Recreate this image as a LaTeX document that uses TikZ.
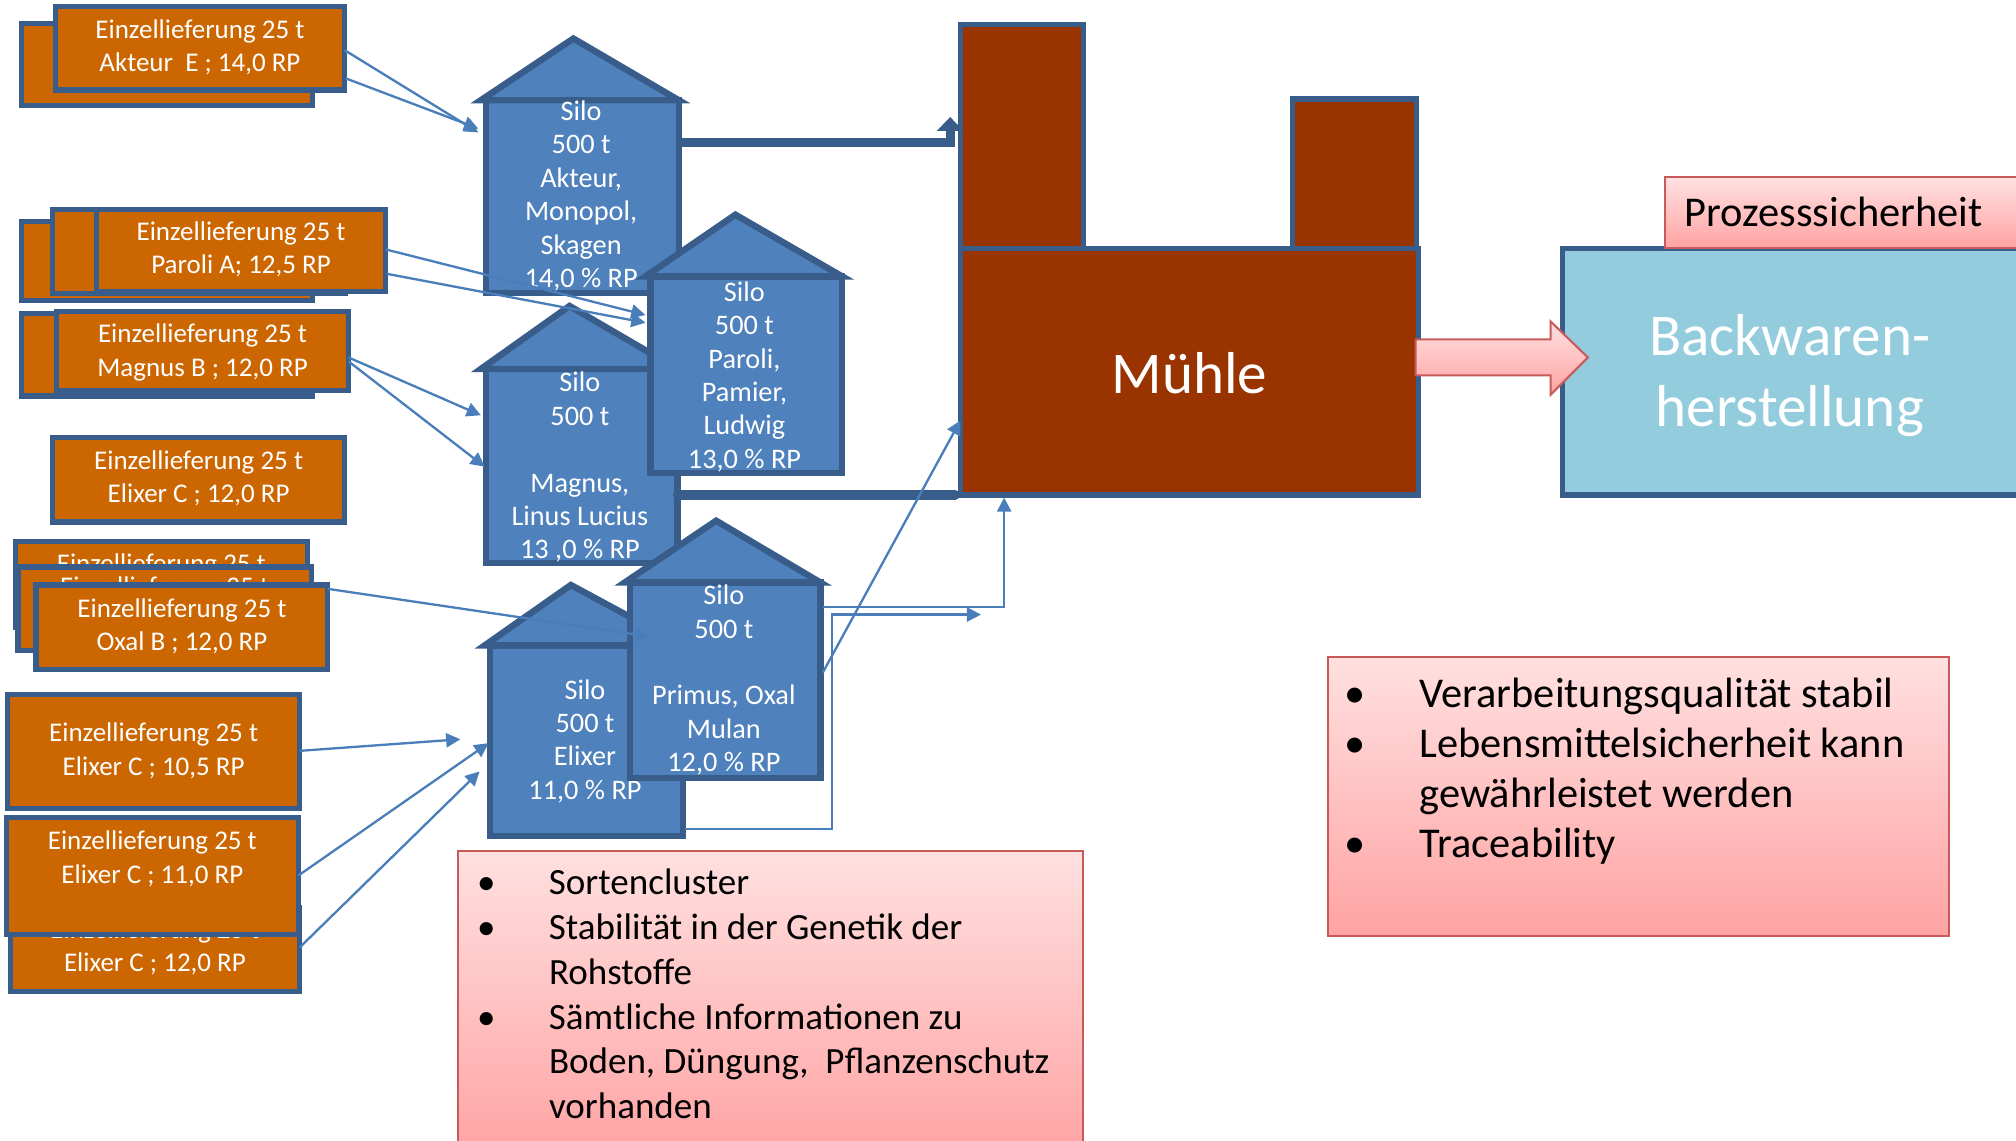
\documentclass[tikz,border=0pt]{standalone}
\usepackage{fontspec}
\setmainfont{Carlito}
\usetikzlibrary{arrows.meta,calc}
\definecolor{org}{HTML}{CC6600}
\definecolor{bdr}{HTML}{385D8A}
\definecolor{silofill}{HTML}{4F81BD}
\definecolor{mill}{HTML}{993300}
\definecolor{bake}{HTML}{93CDDD}
\definecolor{conn}{HTML}{4A7EBB}
\definecolor{pinkT}{HTML}{FFE0E0}
\definecolor{pinkB}{HTML}{FFA3A3}
\definecolor{pinkL}{HTML}{C85A5A}
\newcommand\mkbox[6]{\node[#2,minimum width={(#5-#3)*0.5pt},minimum height={(#6-#4)*0.5pt}] (#1) at (#3,#4) {};}
\begin{document}
\begin{tikzpicture}[x=0.5pt,y=-0.5pt,
  obox/.style={draw=bdr,fill=org,line width=2pt,inner sep=0pt,outer sep=0pt,anchor=north west},
  otxt/.style={text=white,font=\fontsize{10.5}{13}\selectfont,align=center,inner sep=0pt,outer sep=0pt},
  silobody/.style={draw=bdr,fill=silofill,line width=2.5pt,inner sep=0pt,outer sep=0pt,anchor=north west},
  siloroof/.style={draw=bdr,fill=silofill,line width=2.5pt},
  stxt/.style={text=white,font=\fontsize{11}{13}\selectfont,align=center,inner sep=0pt,outer sep=0pt},
  millbox/.style={draw=bdr,fill=mill,line width=2pt,inner sep=0pt,outer sep=0pt,anchor=north west},
  bakebox/.style={draw=bdr,fill=bake,line width=2pt,inner sep=0pt,outer sep=0pt,anchor=north west},
  pinkbox/.style={draw=pinkL,line width=0.8pt,top color=pinkT,bottom color=pinkB,inner sep=0pt,outer sep=0pt,anchor=north west},
  thickconn/.style={draw=bdr,line width=3.6pt},
  thinconn/.style={draw=conn,line width=0.9pt,-{Triangle[length=5.5pt,width=5.5pt]}},
  listtxt/.style={anchor=north west,inner sep=0pt,outer sep=0pt,align=left,text=black},
]
\useasboundingbox (0,0) rectangle (1568,887);
\clip (0,0) rectangle (1568,887);
\fill[white] (0,0) rectangle (1568,887);

% ---------- deliveries (orange boxes) ----------
\mkbox{g1b}{obox}{17}{18}{243}{82}
\mkbox{g1f}{obox}{43}{5}{268}{70}
\node[otxt] (t1) at (155.5,37) {Einzellieferung 25 t\\Akteur\ \ E ; 14,0 RP};

\mkbox{g2b}{obox}{17}{172}{243}{234}
\mkbox{g2m}{obox}{41}{163}{269}{228}
\node[otxt] (t2m) at (155,182) {Einzellieferung 25 t};
\mkbox{g2f}{obox}{75}{163}{300}{227}
\node[otxt] (t2) at (187.5,194) {Einzellieferung 25 t\\Paroli A; 12,5 RP};

\mkbox{g3b}{obox}{17}{244}{243}{308}
\mkbox{g3f}{obox}{44}{242}{271}{304}
\node[otxt] (t3) at (157.5,274) {Einzellieferung 25 t\\Magnus B ; 12,0 RP};

\mkbox{g4}{obox}{41}{340}{268}{406}
\node[otxt] (t4) at (154.5,372) {Einzellieferung 25 t\\Elixer C ; 12,0 RP};

\mkbox{g5b}{obox}{12}{421}{239}{488}
\node[otxt] (t5b) at (125.5,440) {Einzellieferung 25 t};
\mkbox{g5m}{obox}{14}{441}{242}{506}
\node[otxt] (t5m) at (128,458) {Einzellieferung 25 t};
\mkbox{g5f}{obox}{28}{455}{255}{521}
\node[otxt] (t5) at (141.5,487) {Einzellieferung 25 t\\Oxal B ; 12,0 RP};

\mkbox{g6}{obox}{6}{540}{233}{629}
\node[otxt] (t6) at (119.5,584) {Einzellieferung 25 t\\Elixer C ; 10,5 RP};

\mkbox{g7b}{obox}{8}{706}{233}{771}
\node[otxt] (t7b) at (120.5,737) {Einzellieferung 25 t\\Elixer C ; 12,0 RP};
\mkbox{g7f}{obox}{5}{636}{232}{727}
\node[otxt] (t7) at (118.5,668) {Einzellieferung 25 t\\Elixer C ; 11,0 RP};

% ---------- silos ----------
\mkbox{sA}{silobody}{378}{78}{528}{228}
\draw[siloroof] (374,78) -- (446,30) -- (528,78) -- cycle;
\node[stxt] (sAt) at (452,152.5) {Silo\\500 t\\Akteur,\\Monopol,\\Skagen\\14,0 \% RP};

\mkbox{sC}{silobody}{378}{287}{527}{438}
\draw[siloroof] (374,287) -- (443,238) -- (527,287) -- cycle;
\node[stxt] (sCt) at (451,363.5) {Silo\\500 t\\\mbox{}\\Magnus,\\Linus Lucius\\13 ,0 \% RP};

\mkbox{sB}{silobody}{506}{215}{655}{368}
\draw[siloroof] (502,215) -- (572,167) -- (655,215) -- cycle;
\node[stxt] (sBt) at (579,293) {Silo\\500 t\\Paroli,\\Pamier,\\Ludwig\\13,0 \% RP};

\mkbox{sD}{silobody}{381}{502}{531}{650}
\draw[siloroof] (377,502) -- (444,455) -- (531,502) -- cycle;
\node[stxt] (sDt) at (455,576.5) {Silo\\500 t\\Elixer\\11,0 \% RP};

\mkbox{sE}{silobody}{490}{453}{638}{605}
\draw[siloroof] (486,453) -- (557,405) -- (638,453) -- cycle;
\node[stxt] (sEt) at (563,529) {Silo\\500 t\\\mbox{}\\Primus, Oxal\\Mulan\\12,0 \% RP};

% ---------- mill ----------
\mkbox{mc1}{millbox}{747}{19}{843}{193}
\mkbox{mc2}{millbox}{1005}{77}{1102}{193}
\mkbox{mb}{millbox}{747}{193}{1103}{385}
\node[text=white,font=\fontsize{23}{27}\selectfont,inner sep=0pt] (mt) at (925,290) {Mühle};

% ---------- bakery ----------
\mkbox{bw}{bakebox}{1215}{193}{1590}{385}
\node[text=white,font=\fontsize{23}{27.5}\selectfont,align=center,inner sep=0pt] (bwt) at (1392,292) {Backwaren-\\herstellung};
\mkbox{pz}{pinkbox}{1295}{138}{1590}{193}
\node[anchor=west,inner sep=0pt,font=\fontsize{16.5}{19.5}\selectfont] (pzt) at (1310,165) {Prozesssicherheit};

% block arrow mill -> bakery
\draw[pinkL,line width=0.8pt,top color=pinkT,bottom color=pinkB]
  (1101,264) -- (1206,264) -- (1206,250) -- (1235,278) -- (1206,307) -- (1206,292) -- (1101,292) -- cycle;

% ---------- thick connectors silo -> mill ----------
\draw[thickconn,-{Triangle[length=5.4pt,width=10pt]}] ($(sA.north east)+(0,33)$) -| ($(mc1.north west)+(-8,72)$);
\draw[thickconn,line cap=round] ($(sC.north east)+(0,98)$) -- ($(mb.south west)+(-4,0)$);

% ---------- thin connectors silo -> mill ----------
\coordinate (f1) at (763,478);
\draw[thinconn] ($(sE.north east)+(2,70)$) -- ($(mb.north west)+(0,134)$);
\draw[thinconn] ($(sE.north east)+(2,19)$) -| ($(mb.south west)+(34,2)$);
\draw[thinconn] ($(sD.south east)+(2,-5)$) -- ++(114,0) |- (f1);

% ---------- deliveries -> silos ----------
\draw[thinconn] ($(g1f.north east)+(0,34)$) -- ($(sA.north west)+(-6,25)$);
\draw[thinconn] ($(g1f.north east)+(1,56)$) -- ($(sA.north west)+(-6,22)$);
\draw[thinconn] ($(g2f.north east)+(0,31)$) -- ($(sB.north west)+(-4,30)$);
\draw[thinconn] ($(g2f.north east)+(1,50)$) -- ($(sB.north west)+(-4,36)$);
\draw[thinconn] ($(g3f.north east)+(0,36)$) -- ($(sC.north west)+(-4,36)$);
\draw[thinconn] ($(g3f.north east)+(0,39)$) -- ($(sC.north west)+(-1,76)$);
\draw[thinconn] ($(g5f.north east)+(0,3)$) -- ($(sE.north west)+(15,42)$);
\draw[thinconn] ($(g6.north east)+(0,44)$) -- ($(sD.north west)+(-23,73)$);
\draw[thinconn] ($(g7f.north east)+(0,45)$) -- ($(sD.north west)+(-1,76)$);
\draw[thinconn] ($(g7b.north east)+(0,31)$) -- ($(sD.north west)+(-8,98)$);

% ---------- info boxes ----------
\mkbox{pb1}{pinkbox}{356}{662}{842}{900}
\node[listtxt,font=\fontsize{14.4}{17.4}\selectfont] (l1) at (371,676) {%
\makebox[28pt][l]{\textbullet}Sortencluster\\
\makebox[28pt][l]{\textbullet}Stabilität in der Genetik der\\
\hspace*{28pt}Rohstoffe\\
\makebox[28pt][l]{\textbullet}Sämtliche Informationen zu\\
\hspace*{28pt}Boden, Düngung,\ \ Pflanzenschutz\\
\hspace*{28pt}vorhanden};

\mkbox{pb2}{pinkbox}{1033}{511}{1516}{728}
\node[listtxt,font=\fontsize{16.5}{19.5}\selectfont] (l2) at (1046,527) {%
\makebox[29pt][l]{\textbullet}Verarbeitungsqualität stabil\\
\makebox[29pt][l]{\textbullet}Lebensmittelsicherheit kann\\
\hspace*{29pt}gewährleistet werden\\
\makebox[29pt][l]{\textbullet}Traceability};
\end{tikzpicture}
\end{document}
